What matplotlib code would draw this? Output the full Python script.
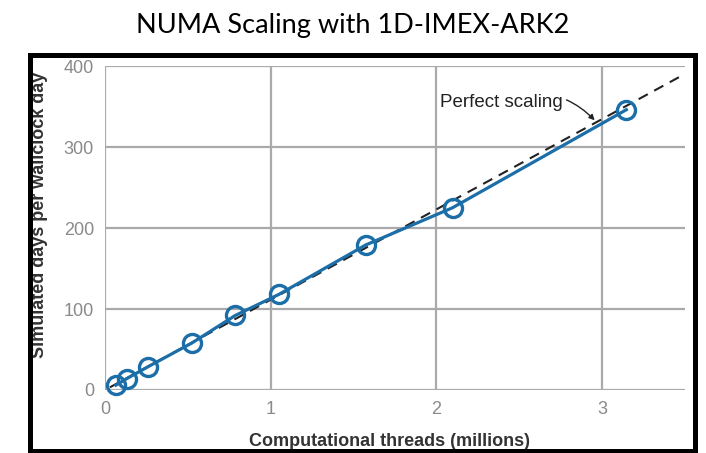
import matplotlib
matplotlib.use("Agg")
import matplotlib.pyplot as plt
from matplotlib.patches import Rectangle

# data (threads in millions, simulated days / wallclock day)
threads = [0.066, 0.131, 0.262, 0.524, 0.786, 1.049, 1.573, 2.097, 3.146]
sim_days = [6, 14, 29, 58, 92, 118, 179, 225, 346]
perfect_x = [0.03, 3.5]
perfect_slope = 111.5
xticks = [0, 1, 2, 3]
yticks = [0, 100, 200, 300, 400]

W, H = 706, 453
fig = plt.figure(figsize=(W / 100, H / 100), dpi=100)

# black frame round the embedded picture
fig.patches.append(Rectangle((29.5 / W, 2.5 / H), 665 / W, 396 / H,
                             transform=fig.transFigure, fill=False,
                             edgecolor="black", linewidth=3.6))

fig.text(353 / W, 1 - 25 / H, "NUMA Scaling with 1D-IMEX-ARK2",
         ha="center", va="center", fontsize=19.5, family="Lato", color="black")

ax = fig.add_axes([105 / W, (H - 390) / H, 580 / W, 324 / H])
ax.set_xlim(0, 3.5)
ax.set_ylim(0, 400)
for s in ax.spines.values():
    s.set_visible(False)
ax.set_xticks(xticks)
ax.set_yticks(yticks)
ax.grid(True, color="#aaaaac", linewidth=1.6)
ax.set_axisbelow(True)
ax.tick_params(length=0, labelsize=13, labelcolor="#8a8a8a", pad=8)
for lab in ax.get_xticklabels() + ax.get_yticklabels():
    lab.set_family("Liberation Sans")

# perfect scaling reference line
ax.plot(perfect_x, [perfect_slope * x for x in perfect_x], color="#222222",
        linestyle=(0, (5, 3.5)), linewidth=1.5, zorder=3)

ax.plot(threads, sim_days, color="#1b6ea8", linewidth=2.3, marker="o",
        markersize=13, markerfacecolor="none", markeredgewidth=2.4, zorder=4,
        clip_on=False)

ax.annotate("Perfect scaling", xy=(2.955, 333), xytext=(2.02, 355),
            fontsize=13.5, family="Liberation Sans", color="#222222",
            va="center", ha="left",
            arrowprops=dict(arrowstyle="-|>", color="#222222", lw=1.0,
                            mutation_scale=8, shrinkA=1, shrinkB=0,
                            connectionstyle="arc3,rad=-0.35"))

ax.set_xlabel("Computational threads (millions)", fontsize=13,
              fontweight="bold", color="#333333", family="Liberation Sans")
ax.xaxis.set_label_coords(0.491, -0.133)
ax.xaxis.label.set_va("top")
ax.set_ylabel("Simulated days per wallclock day", fontsize=13,
              fontweight="bold", color="#333333", family="Liberation Sans")
ax.yaxis.set_label_coords(-0.098, 0.54)

fig.savefig("out.png", dpi=100)
